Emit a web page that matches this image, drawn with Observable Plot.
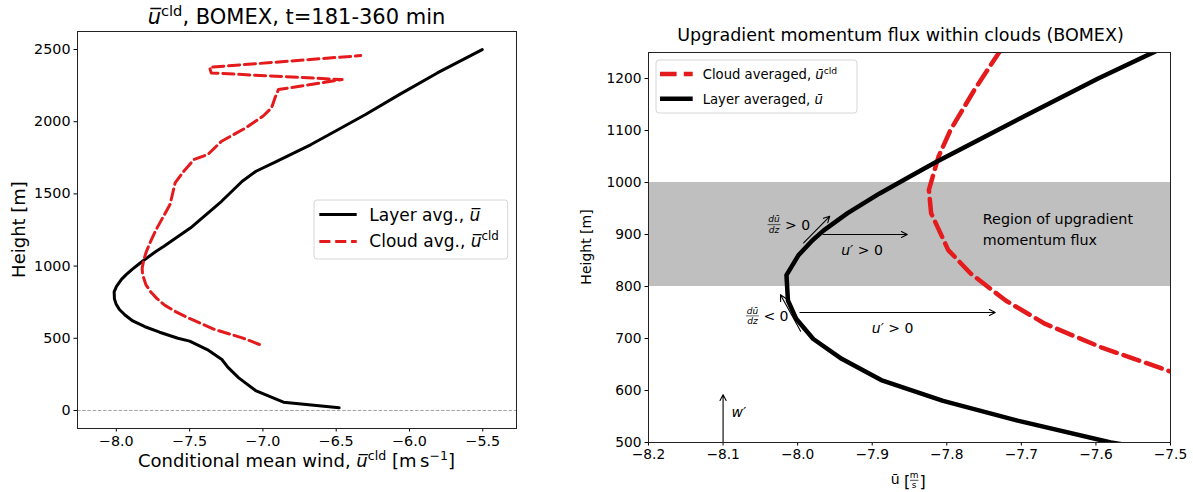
<!DOCTYPE html>
<html><head><meta charset="utf-8">
<script src="https://cdn.jsdelivr.net/npm/d3@7"></script>
<script src="https://cdn.jsdelivr.net/npm/@observablehq/plot@0.6"></script>
<style>
body{margin:0;background:#fff;}
#wrap{position:relative;width:1193px;height:492px;background:#fff;}
#left{position:absolute;left:0;top:0;}
#right{position:absolute;left:560px;top:0;}
</style></head><body><div id="wrap"><div id="left"></div><div id="right"></div></div>
<script>
// ---------- Left panel data (full profile) ----------
const layerHeight = [18,57,138,226,300,353,422,480,500,542,580,620,661,699,738,773,822,860,908,941,979,1011,1039,1103,1137,1265,1449,1588,1657,1726,1842,1934,2050,2188,2338,2500];
const layerU = [-6.48,-6.86,-7.05,-7.165,-7.24,-7.28,-7.38,-7.50,-7.58,-7.705,-7.805,-7.888,-7.941,-7.979,-8.002,-8.013,-8.015,-7.999,-7.965,-7.933,-7.890,-7.850,-7.815,-7.728,-7.675,-7.493,-7.282,-7.141,-7.047,-6.906,-6.672,-6.507,-6.300,-6.070,-5.810,-5.504];
const cloudHeight = [457,503,561,638,683,728,773,825,870,941,986,1050,1101,1178,1252,1426,1576,1657,1738,1773,1865,1957,2038,2096,2165,2223,2292,2338,2377,2458];
const cloudU = [-7.024,-7.141,-7.329,-7.503,-7.593,-7.668,-7.721,-7.768,-7.798,-7.821,-7.824,-7.811,-7.795,-7.763,-7.729,-7.634,-7.599,-7.540,-7.470,-7.376,-7.282,-7.118,-7.0,-6.941,-6.918,-6.894,-6.460,-7.353,-7.364,-6.333];
const leftXTicks = [-8.0,-7.5,-7.0,-6.5,-6.0,-5.5];
const leftYTicks = [0,500,1000,1500,2000,2500];

// ---------- Right panel data (zoom) ----------
const zoomLayerHeight = [480,500,542,580,620,661,699,738,773,822,860,889,908,941,979,1011,1039,1080,1137,1200,1253,1270];
const zoomLayerU = [-7.493,-7.580,-7.705,-7.805,-7.888,-7.941,-7.979,-8.002,-8.013,-8.015,-7.999,-7.980,-7.965,-7.933,-7.890,-7.850,-7.815,-7.760,-7.683,-7.597,-7.519,-7.49];
const zoomCloudHeight = [561,638,683,728,773,825,870,941,986,1050,1101,1178,1252,1300];
const zoomCloudU = [-7.329,-7.503,-7.593,-7.668,-7.721,-7.768,-7.798,-7.821,-7.824,-7.811,-7.795,-7.763,-7.729,-7.70];
const rightXTicks = [-8.2,-8.1,-8.0,-7.9,-7.8,-7.7,-7.6,-7.5];
const rightYTicks = [500,600,700,800,900,1000,1100,1200];
const upgradientBand = [{lo: 800, hi: 1000}];
const arrows = [
  {x1: -8.1, y1: 500, x2: -8.1, y2: 592},
  {x1: -7.966, y1: 900, x2: -7.853, y2: 900},
  {x1: -7.997, y1: 750, x2: -7.735, y2: 750},
  {x1: -7.992, y1: 884, x2: -7.957, y2: 935},
  {x1: -7.996, y1: 714, x2: -8.023, y2: 784}
];

const FONT = "DejaVu Sans";
const red = "#e41a1c";
const zip = (us, hs) => us.map((u, i) => ({u, h: hs[i]}));

// ---------- helpers ----------
function rich(sel, x, y, parts, o = {}) {
  const t = sel.append("text").attr("x", x).attr("y", y)
    .attr("font-family", FONT).attr("font-size", o.size || 14)
    .attr("text-anchor", o.anchor || "start").attr("fill", "black");
  if (o.rotate) t.attr("transform", `rotate(-90 ${x} ${y})`);
  for (const p of parts) {
    const s = t.append("tspan").text(p.t);
    if (p.it) s.attr("font-style", "italic");
    if (p.sup) s.attr("baseline-shift", "super").attr("font-size", (o.size || 14) * 0.7);
  }
  return t;
}

// ---------- Left plot ----------
const left = Plot.plot({
  width: 560, height: 492,
  marginLeft: 77, marginRight: 44, marginTop: 31, marginBottom: 64,
  style: {fontFamily: FONT, fontSize: "14.3px", background: "white", color: "black", overflow: "visible"},
  x: {domain: [-8.265, -5.27], ticks: leftXTicks, tickFormat: d3.format(".1f"), label: null, tickSize: 3.5, tickPadding: 3.5},
  y: {domain: [-125, 2625], ticks: leftYTicks, tickFormat: d3.format("d"), label: null, tickSize: 3.5, tickPadding: 3.5},
  marks: [
    Plot.ruleY([0], {stroke: "#999", strokeWidth: 0.9, strokeDasharray: "3.5,1.7"}),
    Plot.line(zip(layerU, layerHeight), {x: "u", y: "h", stroke: "black", strokeWidth: 3, clip: true}),
    Plot.line(zip(cloudU, cloudHeight), {x: "u", y: "h", stroke: red, strokeWidth: 3, strokeDasharray: "11.1,4.8", clip: true}),
    Plot.frame({stroke: "#222", strokeWidth: 1})
  ]
});
document.getElementById("left").appendChild(left);
{
  const s = d3.select(left);
  rich(s, 296.5, 23.5, [{t: "u\u0305", it: true}, {t: "cld", sup: true}, {t: ", BOMEX, t=181-360 min"}], {size: 21, anchor: "middle"});
  rich(s, 296.5, 467, [{t: "Conditional mean wind, "}, {t: "u\u0305", it: true}, {t: "cld", sup: true}, {t: " [m\u2009s"}, {t: "\u22121", sup: true}, {t: "]"}], {size: 18, anchor: "middle"});
  rich(s, 25, 229.5, [{t: "Height [m]"}], {size: 18, anchor: "middle", rotate: true});
  // legend
  const g = s.append("g");
  g.append("rect").attr("x", 314).attr("y", 200).attr("width", 193.7).attr("height", 59).attr("rx", 3)
    .attr("fill", "white").attr("fill-opacity", 0.8).attr("stroke", "#d6d6d6");
  g.append("line").attr("x1", 319.3).attr("x2", 356.7).attr("y1", 214.5).attr("y2", 214.5).attr("stroke", "black").attr("stroke-width", 3);
  g.append("line").attr("x1", 319.3).attr("x2", 356.7).attr("y1", 241.5).attr("y2", 241.5).attr("stroke", red).attr("stroke-width", 3).attr("stroke-dasharray", "11.1,4.8");
  rich(g, 369.3, 220.7, [{t: "Layer avg., "}, {t: "u\u0305", it: true}], {size: 17});
  rich(g, 369.3, 247.3, [{t: "Cloud avg., "}, {t: "u\u0305", it: true}, {t: "cld", sup: true}], {size: 17});
}

// ---------- Right plot ----------
const right = Plot.plot({
  width: 633, height: 492,
  marginLeft: 88, marginRight: 23, marginTop: 52, marginBottom: 50,
  style: {fontFamily: FONT, fontSize: "13.75px", background: "white", color: "black", overflow: "visible"},
  x: {domain: [-8.2, -7.5], ticks: rightXTicks, tickFormat: d3.format(".1f"), label: null, tickSize: 3.5, tickPadding: 3.5},
  y: {domain: [500, 1250], ticks: rightYTicks, tickFormat: d3.format("d"), label: null, tickSize: 3.5, tickPadding: 3.5},
  marks: [
    Plot.rect(upgradientBand, {y1: "lo", y2: "hi", fill: "#bfbfbf"}),
    Plot.line(zip(zoomCloudU, zoomCloudHeight), {x: "u", y: "h", stroke: red, strokeWidth: 4.5, strokeDasharray: "16.6,7.2", clip: true}),
    Plot.line(zip(zoomLayerU, zoomLayerHeight), {x: "u", y: "h", stroke: "black", strokeWidth: 4.5, clip: true}),
    Plot.arrow(arrows, {x1: "x1", y1: "y1", x2: "x2", y2: "y2", stroke: "black", strokeWidth: 1.1, headLength: 9, headAngle: 55}),
    Plot.frame({stroke: "#222", strokeWidth: 1})
  ]
});
document.getElementById("right").appendChild(right);
{
  const s = d3.select(right);
  const sx = right.scale("x"), sy = right.scale("y");
  const X = v => sx.apply(v), Y = v => sy.apply(v);
  rich(s, 340.5, 40.7, [{t: "Upgradient momentum flux within clouds (BOMEX)"}], {size: 17.5, anchor: "middle"});
  rich(s, 31, 247, [{t: "Height [m]"}], {size: 14, anchor: "middle", rotate: true});
  // x label: ū [m/s]
  rich(s, 330.8, 484, [{t: "\u016b"}], {size: 14});
  rich(s, 344, 486.5, [{t: "["}], {size: 16});
  rich(s, 354.2, 477.8, [{t: "m"}], {size: 9, anchor: "middle"});
  s.append("line").attr("x1", 350).attr("x2", 358.5).attr("y1", 480.3).attr("y2", 480.3).attr("stroke", "black").attr("stroke-width", 0.7);
  rich(s, 354.2, 488, [{t: "s"}], {size: 9, anchor: "middle"});
  rich(s, 359.5, 486.5, [{t: "]"}], {size: 16});
  // annotations
  rich(s, X(-8.088), Y(558) + 5, [{t: "w\u2032", it: true}], {size: 14});
  rich(s, X(-7.913), Y(870) + 5, [{t: "u\u2032", it: true}, {t: " > 0"}], {size: 14, anchor: "middle"});
  rich(s, X(-7.872), Y(720) + 5, [{t: "u\u2032", it: true}, {t: " > 0"}], {size: 14, anchor: "middle"});
  rich(s, X(-7.751), Y(929) + 5, [{t: "Region of upgradient"}], {size: 14.3});
  rich(s, X(-7.751), Y(889) + 5, [{t: "momentum flux"}], {size: 14.3});
  function frac(cx, bh, rel) {
    const px = X(cx), py = Y(bh);
    rich(s, px, py - 2.3, [{t: "d\u016b", it: true}], {size: 9, anchor: "middle"});
    s.append("line").attr("x1", px - 6.5).attr("x2", px + 6.5).attr("y1", py).attr("y2", py).attr("stroke", "black").attr("stroke-width", 0.6);
    rich(s, px, py + 8.5, [{t: "dz", it: true}], {size: 9, anchor: "middle"});
    rich(s, px + 11, py + 5, [{t: rel}], {size: 14});
  }
  frac(-8.031, 918, "> 0");
  frac(-8.060, 742.5, "< 0");
  // legend
  const g = s.append("g");
  g.append("rect").attr("x", 96).attr("y", 60).attr("width", 201).attr("height", 53).attr("rx", 3)
    .attr("fill", "white").attr("fill-opacity", 0.8).attr("stroke", "#d6d6d6");
  g.append("line").attr("x1", 100).attr("x2", 132.7).attr("y1", 74).attr("y2", 74).attr("stroke", red).attr("stroke-width", 4.5).attr("stroke-dasharray", "16.6,7.2");
  g.append("line").attr("x1", 100).attr("x2", 132.7).attr("y1", 98.7).attr("y2", 98.7).attr("stroke", "black").attr("stroke-width", 4.5);
  rich(g, 142.7, 79, [{t: "Cloud averaged, "}, {t: "\u016b", it: true}, {t: "cld", sup: true}], {size: 13.2});
  rich(g, 142.7, 103.7, [{t: "Layer averaged, "}, {t: "\u016b", it: true}], {size: 13.2});
}
</script></body></html>
